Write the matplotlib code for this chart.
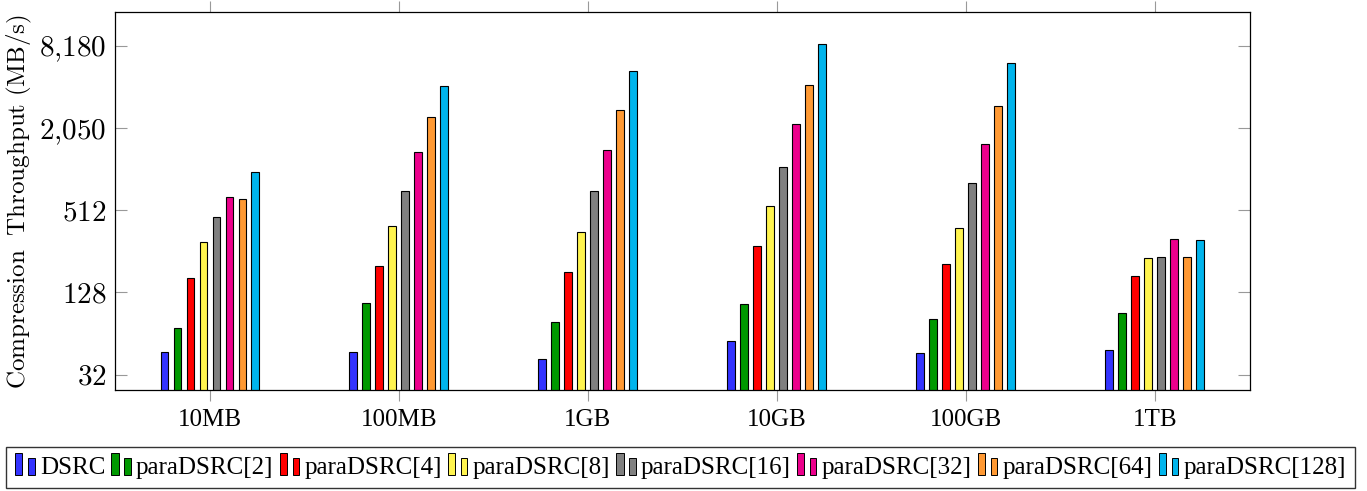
import numpy as np
import matplotlib
matplotlib.use("Agg")
import matplotlib.pyplot as plt
from matplotlib.patches import Rectangle
from matplotlib.legend_handler import HandlerBase

plt.rcParams['font.family'] = ['Liberation Serif', 'DejaVu Serif']
plt.rcParams['mathtext.fontset'] = 'cm'

# ---------------------------------------------------------------------------
# Data (MB/s)
# ---------------------------------------------------------------------------
sizes = ['10MB', '100MB', '1GB', '10GB', '100GB', '1TB']
series = ['DSRC', 'paraDSRC[2]', 'paraDSRC[4]', 'paraDSRC[8]',
          'paraDSRC[16]', 'paraDSRC[32]', 'paraDSRC[64]', 'paraDSRC[128]']

dsrc       = [46.7, 46.7, 41.9, 56.8, 46.4, 48.5]
para_2     = [70.3, 106.7, 77.4, 104.9, 81.9, 91.0]
para_4     = [162.6, 201.0, 180.0, 282.0, 208.0, 168.0]
para_8     = [298.5, 395.0, 357.0, 548.0, 382.0, 229.0]
para_16    = [455.0, 712.0, 709.0, 1057.0, 807.0, 234.0]
para_32    = [637.0, 1376.0, 1422.0, 2183.0, 1574.0, 314.0]
para_64    = [619.0, 2470.0, 2765.0, 4257.0, 2973.0, 233.0]
para_128   = [982.0, 4187.0, 5338.0, 8503.0, 6170.0, 310.0]

values = [dsrc, para_2, para_4, para_8, para_16, para_32, para_64, para_128]

colors = ['#3333FF', '#009900', '#FF0000', '#FFF44F',
          '#808080', '#EC008C', '#FF9933', '#00B4EC']

ytick_vals   = [32, 128, 512, 2048, 8192]
ytick_labels = [r'$32$', r'$128$', r'$512$', r'$2{,}050$', r'$8{,}180$']


# legend marker: two small bars like pgfplots' ybar legend
class HandlerTwoBars(HandlerBase):
    def create_artists(self, legend, orig_handle, xdescent, ydescent,
                       width, height, fontsize, trans):
        fc = orig_handle.get_facecolor()
        y0 = -ydescent - 1.0
        r1 = Rectangle((-xdescent, y0), 5.2, 15.8, facecolor=fc,
                       edgecolor='black', linewidth=0.7, transform=trans)
        r2 = Rectangle((-xdescent + 9.4, y0), 4.5, 12.2, facecolor=fc,
                       edgecolor='black', linewidth=0.7, transform=trans)
        return [r1, r2]


fig = plt.figure(figsize=(13.67, 4.91), dpi=100)
ax = fig.add_axes([0.0841, 0.2057, 0.9142 - 0.0841, 0.975 - 0.2057])

x = np.arange(len(sizes))
step  = 0.0688
width = 0.0423
handles = []
for i, (vals, col) in enumerate(zip(values, colors)):
    bars = ax.bar(x + (i - 3.5) * step, vals, width=width, color=col,
                  edgecolor='black', linewidth=0.8, label=series[i])
    handles.append(bars.patches[0])

ax.set_yscale('log', base=2)
ax.set_ylim(2 ** 4.628, 2 ** 13.817)
ax.set_xlim(-0.503, 5.503)
ax.minorticks_off()
ax.set_yticks(ytick_vals)
ax.set_yticklabels(ytick_labels, fontsize=21)
ax.set_xticks(x)
ax.set_xticklabels(sizes, fontsize=18)

ax.tick_params(axis='y', direction='in', left=True, right=True,
               length=8.5, width=0.8, color='#999999', pad=6)
ax.tick_params(axis='x', direction='out', bottom=True, top=True,
               length=8, width=0.8, color='#999999', pad=6)
for s in ax.spines.values():
    s.set_linewidth(0.9)

ax.set_ylabel(r'$\mathrm{Compression\ \ Throughput\ (MB/s)}$',
              fontsize=18, labelpad=4)

fs = 18
fig.legend(handles, series, handler_map={Rectangle: HandlerTwoBars()},
           loc='lower center', bbox_to_anchor=(0.4978, 0.006), ncol=8,
           fontsize=fs, frameon=True, fancybox=False, edgecolor='black',
           handlelength=13.9 / fs, handletextpad=0.21, columnspacing=0.25,
           borderpad=0.38, borderaxespad=0.0)

fig.savefig('out.png', dpi=100)
